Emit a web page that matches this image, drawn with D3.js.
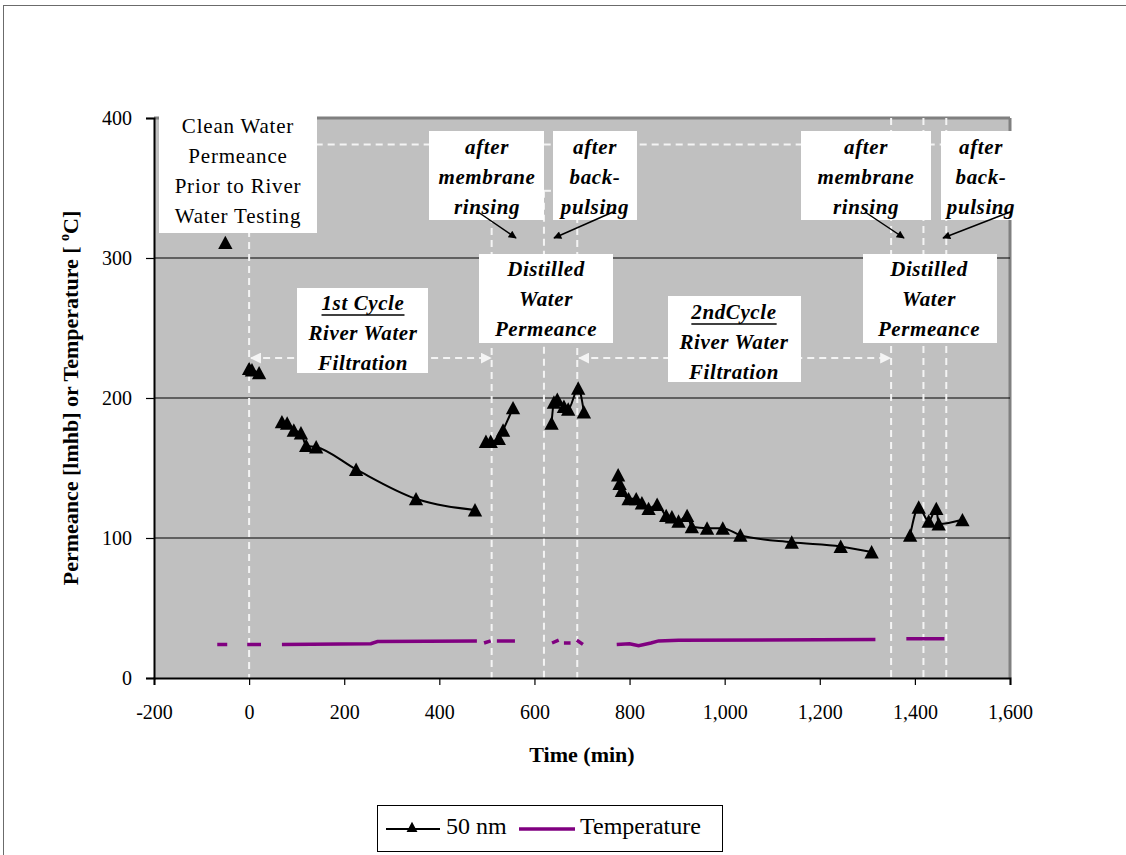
<!DOCTYPE html>
<html>
<head>
<meta charset="utf-8">
<script src="https://cdn.jsdelivr.net/npm/d3@7"></script>
<style>
  body { margin: 0; background: #fff; }
  svg text { font-family: "Liberation Serif", "Times New Roman", serif; }
</style>
</head>
<body>
<svg id="chart" width="1126" height="855"></svg>
<script>
// ---- data -------------------------------------------------------------
// 50 nm membrane permeance: time (min) and permeance (lmhb); NaN breaks the line between runs
const permTime = [
  -50, NaN,
  0, 6, 21, NaN,
  69, 80, 94, 109, 120, 141, 225, 351, 475, NaN,
  498, 508, 525, 534, 555, NaN,
  636, 641, 648, 662, 671, 692, 704, NaN,
  776, 779, 784, 798, 814, 826, 840, 858, 877, 889, 903, 921, 931, 963, 996, 1033, 1141, 1244, 1309, NaN,
  1390, 1408, 1429, 1445, 1450, 1500
];
const permValue = [
  311, NaN,
  221, 220, 218, NaN,
  183, 182, 177, 175, 166, 165, 149, 128, 120, NaN,
  169, 169, 171, 177, 193, NaN,
  182, 197, 199, 194, 192, 207, 190, NaN,
  145, 139, 134, 128, 128, 125, 121, 124, 116, 115, 112, 116, 108, 107, 107, 102, 97, 94, 90, NaN,
  102, 122, 112, 121, 110, 113
];

// Feed temperature (°C) over the same time axis
const tempTime = [
  -67, -46, NaN,
  -4, 25, NaN,
  69, 256, 270, 479, NaN,
  494, 508, NaN,
  521, 559, NaN,
  637, 651, NaN,
  662, 676, NaN,
  689, 702, NaN,
  773, 800, 819, 845, 861, 903, 1317, NaN,
  1382, 1462
];
const tempValue = [
  24, 24, NaN,
  24, 24, NaN,
  24, 24.5, 26, 26.5, NaN,
  25, 26.5, NaN,
  26.5, 26.5, NaN,
  25, 27, NaN,
  25, 25, NaN,
  27, 24, NaN,
  24, 24.5, 23, 25, 26.5, 27, 27.5, NaN,
  28, 28
];

// Phase boundaries (min): start of testing, rinsing / back-pulsing steps
const phaseTimes = [0, 510, 620, 690, 1350, 1418, 1466];
const phaseTops  = [320, 390, 348, 390, 400, 400, 400];

const xTicks = [-200, 0, 200, 400, 600, 800, 1000, 1200, 1400, 1600];
const xTickLabels = ["-200", "0", "200", "400", "600", "800", "1,000", "1,200", "1,400", "1,600"];
const yTicks = [0, 100, 200, 300, 400];
const yTickLabels = ["0", "100", "200", "300", "400"];
const gridValues = [100, 200, 300];

const seriesNames = ["50 nm", "Temperature"];

// ---- layout -------------------------------------------------------------
const svg = d3.select("#chart");
const x = d3.scaleLinear().domain([-200, 1600]).range([154, 1010]);
const y = d3.scaleLinear().domain([0, 400]).range([678, 118]);

const PURPLE = "#800080";

// outer frame
svg.append("rect").attr("x", 3.5).attr("y", 5.5).attr("width", 1140).attr("height", 870)
  .attr("fill", "none").attr("stroke", "#6b6b6b").attr("stroke-width", 1);

// plot area
svg.append("rect")
  .attr("x", x(-200)).attr("y", y(400))
  .attr("width", x(1600) - x(-200)).attr("height", y(0) - y(400))
  .attr("fill", "#c0c0c0");
svg.append("line").attr("x1", x(-200)).attr("x2", x(1600)).attr("y1", y(400)).attr("y2", y(400))
  .attr("stroke", "#808080").attr("stroke-width", 3);
svg.append("line").attr("x1", x(1600)).attr("x2", x(1600)).attr("y1", y(400)).attr("y2", y(0))
  .attr("stroke", "#808080").attr("stroke-width", 3);

// gridlines
svg.append("g").selectAll("line").data(gridValues).join("line")
  .attr("x1", x(-200)).attr("x2", x(1600))
  .attr("y1", d => y(d)).attr("y2", d => y(d))
  .attr("stroke", "#000").attr("stroke-width", 1);

// markers
const defs = svg.append("defs");
defs.append("marker").attr("id", "blackHead").attr("viewBox", "0 0 10 10")
  .attr("refX", 9).attr("refY", 5).attr("markerWidth", 11).attr("markerHeight", 8)
  .attr("markerUnits", "userSpaceOnUse").attr("orient", "auto")
  .append("path").attr("d", "M0,0L10,5L0,10Z").attr("fill", "#000");
defs.append("marker").attr("id", "whiteHead").attr("viewBox", "0 0 10 10")
  .attr("refX", 9).attr("refY", 5).attr("markerWidth", 11).attr("markerHeight", 11)
  .attr("markerUnits", "userSpaceOnUse").attr("orient", "auto-start-reverse")
  .append("path").attr("d", "M0,0L10,5L0,10Z").attr("fill", "#f4f4f4");

// annotation boxes
const notes = [
  { box: [159, 111, 158, 122], cx: 238, y0: 126, lines: ["Clean Water", "Permeance", "Prior to River", "Water Testing"], italic: false },
  { box: [297, 288, 131, 85], cx: 363, y0: 303, lines: ["1st Cycle", "River Water", "Filtration"], italic: true, underline: true },
  { box: [429, 131, 115, 89], cx: 487, y0: 147, lines: ["after", "membrane", "rinsing"], italic: true },
  { box: [553, 131, 84, 89], cx: 595, y0: 147, lines: ["after", "back-", "pulsing"], italic: true },
  { box: [479, 254, 134, 89], cx: 546, y0: 269, lines: ["Distilled", "Water", "Permeance"], italic: true },
  { box: [668, 296, 133, 86], cx: 734, y0: 312, lines: ["2ndCycle", "River Water", "Filtration"], italic: true, underline: true },
  { box: [801, 131, 130, 89], cx: 866, y0: 147, lines: ["after", "membrane", "rinsing"], italic: true },
  { box: [941, 131, 72, 89], cx: 981, y0: 147, lines: ["after", "back-", "pulsing"], italic: true },
  { box: [863, 254, 134, 89], cx: 929, y0: 269, lines: ["Distilled", "Water", "Permeance"], italic: true }
];

// dashed guide lines (under the boxes)
const guides = svg.append("g").attr("stroke", "#f4f4f4").attr("stroke-width", 2)
  .attr("stroke-dasharray", "7,5").attr("fill", "none");
guides.selectAll("line.phase").data(phaseTimes).join("line").attr("class", "phase")
  .attr("x1", d => x(d)).attr("x2", d => x(d))
  .attr("y1", (d, i) => y(phaseTops[i])).attr("y2", y(0));
guides.append("line").attr("x1", x(140)).attr("x2", x(1600)).attr("y1", y(381)).attr("y2", y(381));
guides.append("line").attr("x1", x(620)).attr("x2", x(640)).attr("y1", y(348)).attr("y2", y(348));
// phase-span arrows
[[0, 510], [690, 1350]].forEach(([a, b]) => {
  guides.append("line")
    .attr("x1", x(a) + 2).attr("x2", x(b) - 1).attr("y1", y(228.5)).attr("y2", y(228.5))
    .attr("marker-start", "url(#whiteHead)").attr("marker-end", "url(#whiteHead)");
});

const noteG = svg.append("g");
noteG.selectAll("rect").data(notes).join("rect")
  .attr("x", d => d.box[0]).attr("y", d => d.box[1])
  .attr("width", d => d.box[2]).attr("height", d => d.box[3])
  .attr("fill", "#fff");

notes.forEach(n => {
  n.lines.forEach((t, i) => {
    const el = noteG.append("text")
      .attr("x", n.cx).attr("y", n.y0 + i * 30).attr("dy", "0.34em")
      .attr("text-anchor", "middle")
      .attr("font-size", 21)
      .attr("font-weight", n.italic ? "bold" : "normal")
      .attr("font-style", n.italic ? "italic" : "normal")
      .attr("letter-spacing", n.italic ? 0.6 : 0.8)
      .attr("fill", "#000")
      .text(t);
    if (n.underline && i === 0) {
      const w = el.node().getComputedTextLength();
      noteG.append("line")
        .attr("x1", n.cx - w / 2).attr("x2", n.cx + w / 2)
        .attr("y1", n.y0 + 12).attr("y2", n.y0 + 12)
        .attr("stroke", "#000").attr("stroke-width", 1.6);
    }
  });
});

// black pointer arrows
const pointers = [[478, 212, 516, 238], [613, 212, 554, 238], [865, 212, 904, 238], [1010, 212, 943, 238]];
svg.append("g").selectAll("line").data(pointers).join("line")
  .attr("x1", d => d[0]).attr("y1", d => d[1]).attr("x2", d => d[2]).attr("y2", d => d[3])
  .attr("stroke", "#000").attr("stroke-width", 1.5).attr("marker-end", "url(#blackHead)");

// ---- series -------------------------------------------------------------
const tempPts = tempTime.map((t, i) => [t, tempValue[i]]);
const permPts = permTime.map((t, i) => [t, permValue[i]]);

const lineGen = d3.line()
  .defined(d => !isNaN(d[0]) && !isNaN(d[1]))
  .x(d => x(d[0])).y(d => y(d[1]));

svg.append("path").datum(tempPts)
  .attr("d", lineGen).attr("fill", "none")
  .attr("stroke", PURPLE).attr("stroke-width", 3.5);

svg.append("path").datum(permPts)
  .attr("d", lineGen.curve(d3.curveMonotoneX)).attr("fill", "none")
  .attr("stroke", "#000").attr("stroke-width", 2);

const triangleType = {
  draw(ctx, size) {
    const s = Math.sqrt(size);
    ctx.moveTo(0, -0.5 * s);
    ctx.lineTo(0.52 * s, 0.47 * s);
    ctx.lineTo(-0.52 * s, 0.47 * s);
    ctx.closePath();
  }
};
const triSymbol = d3.symbol().type(triangleType).size(190);
svg.append("g").selectAll("path")
  .data(permPts.filter(d => !isNaN(d[0])))
  .join("path")
  .attr("transform", d => `translate(${x(d[0])},${y(d[1])})`)
  .attr("d", triSymbol).attr("fill", "#000");

// ---- axes ---------------------------------------------------------------
const yAxis = d3.axisLeft(y).tickValues(yTicks).tickFormat((d, i) => yTickLabels[i])
  .tickSize(8).tickPadding(14);
const gy = svg.append("g").attr("transform", `translate(${x(-200)},0)`).call(yAxis);
const xAxis = d3.axisBottom(x).tickValues(xTicks).tickFormat((d, i) => xTickLabels[i])
  .tickSize(7).tickPadding(20);
const gx = svg.append("g").attr("transform", `translate(0,${y(0)})`).call(xAxis);
[gx, gy].forEach(g => {
  g.select(".domain").attr("stroke", "#000").attr("stroke-width", 2);
  g.selectAll(".tick line").attr("stroke", "#000").attr("stroke-width", 1.2);
  g.selectAll(".tick text").attr("font-family", "Liberation Serif, Times New Roman, serif")
    .attr("font-size", 20).attr("fill", "#000");
});

// axis titles
svg.append("text").attr("x", 582).attr("y", 762).attr("text-anchor", "middle")
  .attr("font-size", 22).attr("font-weight", "bold").text("Time (min)");

const yTitle = svg.append("text")
  .attr("transform", "translate(78,398) rotate(-90)")
  .attr("text-anchor", "middle").attr("font-size", 22).attr("font-weight", "bold");
yTitle.append("tspan").text("Permeance [lmhb] or Temperature [ ");
yTitle.append("tspan").attr("font-size", 14).attr("dy", -9).text("o");
yTitle.append("tspan").attr("dy", 9).text("C]");

// ---- legend -------------------------------------------------------------
const lg = svg.append("g");
lg.append("rect").attr("x", 377.5).attr("y", 805.5).attr("width", 345).attr("height", 46)
  .attr("fill", "#fff").attr("stroke", "#000").attr("stroke-width", 1);
lg.append("line").attr("x1", 386).attr("x2", 440).attr("y1", 829).attr("y2", 829)
  .attr("stroke", "#000").attr("stroke-width", 2);
lg.append("path").attr("transform", "translate(412,827)")
  .attr("d", d3.symbol().type(triangleType).size(110)).attr("fill", "#000");
lg.append("text").attr("x", 446).attr("y", 834)
  .attr("font-size", 24).text(seriesNames[0]);
lg.append("line").attr("x1", 519).attr("x2", 575).attr("y1", 829).attr("y2", 829)
  .attr("stroke", PURPLE).attr("stroke-width", 3.5);
lg.append("text").attr("x", 580).attr("y", 834)
  .attr("font-size", 24).text(seriesNames[1]);
</script>
</body>
</html>
